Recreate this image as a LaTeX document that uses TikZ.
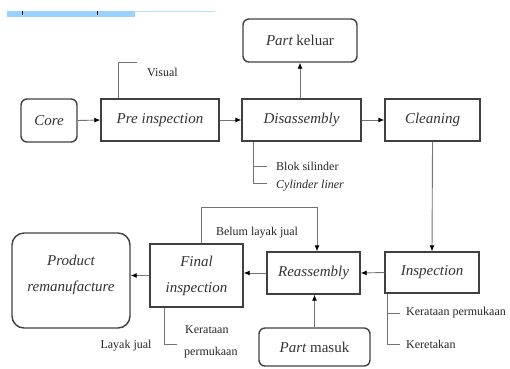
\documentclass[tikz,border=0pt]{standalone}
\usepackage{fontspec}
\setmainfont{Liberation Serif}
\usetikzlibrary{arrows.meta}
\begin{document}
\begin{tikzpicture}[x=1pt,y=-1pt,
  box/.style={draw=black!75, line width=1.4pt, inner sep=0pt, align=center, text=black!80,
    font=\fontsize{15}{26}\selectfont\itshape},
  rbox/.style={box, rounded corners=6pt},
  con/.style={draw=black!55, line width=0.9pt},
  arr/.style={con, -{Latex[length=6pt,width=5pt,color=black]}},
  note/.style={inner sep=0pt, anchor=west, text=black!85, font=\fontsize{12}{14}\selectfont}]
\useasboundingbox (0,0) rectangle (510,368);
% ruler fragment at the top
\fill[blue!45!cyan!40] (7,11) rectangle (135,17);
\draw[blue!30!cyan!30, line width=0.8pt] (135,11.5) -- (215,11.5);
\fill[black] (21.5,11) rectangle (23,15);
\fill[black] (96.5,11) rectangle (98,15);
% boxes
\node[rbox, minimum width=56pt, minimum height=43pt] (core) at (49,120.5) {Core};
\node[box, minimum width=118pt, minimum height=42pt] (pre) at (160,120) {Pre inspection};
\node[box, minimum width=119pt, minimum height=42pt] (dis) at (301.5,120) {Disassembly};
\node[box, minimum width=95pt, minimum height=42pt] (cl) at (432.5,120) {Cleaning};
\node[rbox, minimum width=114pt, minimum height=43pt] (pk) at (300,40.5) {Part \upshape keluar};
\node[box, minimum width=94pt, minimum height=41pt] (insp) at (432,272.5) {Inspection};
\node[box, minimum width=93pt, minimum height=42pt] (reas) at (313.5,273) {Reassembly};
\node[box, minimum width=93pt, minimum height=63pt] (fin) at (196.5,275.5) {Final\\inspection};
\node[rbox, rounded corners=12pt, minimum width=118pt, minimum height=95pt] (prod) at (71,280.5) {};
\node[box, draw=none] (prodt) at (71,275) {Product\\remanufacture};
\node[rbox, minimum width=111pt, minimum height=38pt] (pm) at (314.5,347) {Part \upshape masuk};
% main connectors
\draw[arr] (core.east) -- (pre.west);
\draw[arr] (pre.east) -- (dis.west);
\draw[arr] (dis.east) -- (cl.west);
\draw[arr] (pk.south |- dis.north) -- (pk.south);
\draw[arr] (cl.south) -- (insp.north);
\draw[arr] (insp.west) -- (reas.east);
\draw[arr] (reas.west) -- (reas.west -| fin.east);
\draw[arr] (fin.west) -- (fin.west -| prod.east);
\draw[arr] (pm.north) -- (pm.north |- reas.south);
% belum layak jual loop
\coordinate (blA) at (201,207);
\coordinate (blB) at (317,207);
\draw[arr] (blA |- fin.north) -- (blA) -- (blB) -- (blB |- reas.north);
\node[note, anchor=center] (blt) at (257,233) {Belum layak jual};
% visual
\coordinate (vA) at (118,62);
\coordinate (vB) at (137,62);
\draw[con] (vA |- pre.north) -- (vA) -- (vB);
\node[note] (vis) at (147,72) {Visual};
% disassembly notes
\coordinate (dA) at (253,166);
\coordinate (dB) at (253,183);
\draw[con] (dA |- dis.south) -- (dB) -- ++(14,0);
\draw[con] (dA) -- ++(14,0);
\node[note] (bs) at (276,166) {Blok silinder};
\node[note] (cyl) at (276,186) {\itshape Cylinder liner};
% final inspection notes
\coordinate (fA) at (164,344);
\draw[con] (fA |- fin.south) -- (fA) -- ++(13,0);
\node[note] (k1) at (185,330) {Kerataan};
\node[note] (k2) at (184,353) {permukaan};
\node[note, anchor=center] (lj) at (126,346) {Layak jual};
% inspection notes
\coordinate (iA) at (387,313);
\coordinate (iB) at (387,344);
\draw[con] (iA |- insp.south) -- (iB) -- ++(13,0);
\draw[con] (iA) -- ++(13,0);
\node[note] (kp) at (406,313) {Kerataan permukaan};
\node[note] (kt) at (406,344) {Keretakan};
\end{tikzpicture}
\end{document}
